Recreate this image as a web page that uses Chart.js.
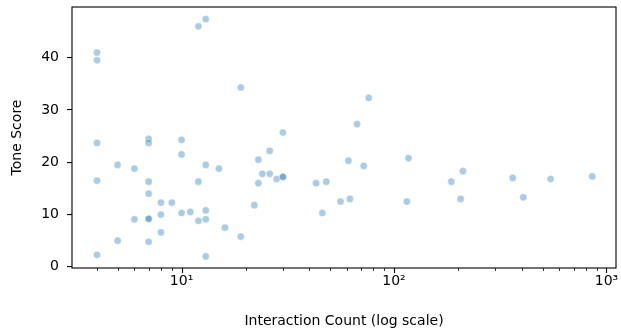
<!DOCTYPE html>
<html lang="en">
<head>
<meta charset="UTF-8">
<title>Tone Score vs Interaction Count</title>
<script src="https://cdn.jsdelivr.net/npm/chart.js"></script>
<style>
  html, body { margin: 0; padding: 0; background: #fff; }
  #wrap { width: 621px; height: 336px; }
</style>
</head>
<body>
<div id="wrap"><canvas id="myChart" width="621" height="336"></canvas></div>
<script>
// interaction counts (x, log scale) and tone scores (y)
const interactionCount = [
  4, 4, 4, 4, 4,
  5, 5,
  6, 6,
  7, 7, 7, 7, 7, 7, 7,
  8, 8, 8,
  9,
  10, 10, 10,
  11,
  12, 12, 12,
  13, 13, 13, 13, 13,
  15, 16, 19, 19, 22, 23, 23, 24, 26, 26, 28, 30, 30, 30,
  43, 46, 48, 56, 61, 62, 67, 72, 76,
  115, 117, 186, 206, 211, 362, 406, 546, 857
];
const toneScore = [
  41.0, 39.5, 23.7, 16.5, 2.3,
  19.5, 5.0,
  18.8, 9.1,
  24.5, 23.7, 16.3, 14.0, 9.2, 9.2, 4.8,
  12.3, 10.0, 6.6,
  12.3,
  24.3, 21.5, 10.3,
  10.5,
  46.0, 16.3, 8.8,
  47.4, 19.5, 10.8, 9.1, 2.0,
  18.8, 7.5, 34.3, 5.8, 11.8, 20.5, 16.0, 17.8, 17.8, 22.2, 16.8, 25.7, 17.2, 17.2,
  16.0, 10.3, 16.3, 12.5, 20.3, 13.0, 27.3, 19.3, 32.3,
  12.5, 20.8, 16.3, 13.0, 18.3, 17.0, 13.3, 16.8, 17.3
];
const yTicks = [0, 10, 20, 30, 40];
const xMajorLabels = { 10: '10\u00b9', 100: '10\u00b2', 1000: '10\u00b3' };

const points = interactionCount.map((x, i) => ({ x: x, y: toneScore[i] }));

// frame on all four sides + x tick marks (major long, minor short)
const framePlugin = {
  id: 'frame',
  afterDraw(chart) {
    const { ctx, chartArea: a } = chart;
    const xs = chart.scales.x;
    ctx.save();
    ctx.strokeStyle = '#000';
    ctx.lineWidth = 1.1;
    ctx.strokeRect(a.left, a.top, a.right - a.left, a.bottom - a.top);
    xs.ticks.forEach(t => {
      const px = Math.round(xs.getPixelForValue(t.value)) + 0.5;
      const len = xMajorLabels[t.value] ? 5 : 3;
      ctx.lineWidth = xMajorLabels[t.value] ? 1.1 : 0.8;
      ctx.beginPath();
      ctx.moveTo(px, a.bottom);
      ctx.lineTo(px, a.bottom + len);
      ctx.stroke();
    });
    ctx.restore();
  }
};

const font = { family: 'DejaVu Sans', size: 14 };

new Chart(document.getElementById('myChart'), {
  type: 'scatter',
  data: {
    datasets: [{
      data: points,
      backgroundColor: 'rgba(31,119,180,0.38)',
      borderColor: 'rgba(255,255,255,0.5)',
      borderWidth: 0.8,
      pointRadius: 3.6,
      pointHoverRadius: 3.6
    }]
  },
  options: {
    responsive: false,
    animation: false,
    events: [],
    layout: { padding: { top: 7, right: 5, left: 0, bottom: 0 } },
    plugins: { legend: { display: false }, tooltip: { enabled: false } },
    scales: {
      x: {
        type: 'logarithmic',
        min: 3.05,
        max: 1109,
        afterBuildTicks(scale) {
          const t = [];
          for (let d = 1; d <= 1000; d *= 10) {
            for (let m = 1; m <= 9; m++) {
              const v = m * d;
              if (v >= scale.min && v <= scale.max) t.push({ value: v });
            }
          }
          scale.ticks = t;
        },
        afterFit(scale) {
          scale.height = 68;
          scale.paddingLeft = 0;
          scale.paddingRight = 0;
        },
        grid: { display: false, drawTicks: false },
        border: { display: false },
        ticks: {
          autoSkip: false,
          maxRotation: 0,
          padding: 5,
          color: '#000',
          font: font,
          callback: v => xMajorLabels[v] || ''
        },
        title: {
          display: true,
          text: 'Interaction Count (log scale)',
          color: '#000',
          font: font,
          padding: { top: 0, bottom: 6 }
        }
      },
      y: {
        min: -0.22,
        max: 49.7,
        afterBuildTicks(scale) {
          scale.ticks = yTicks.map(v => ({ value: v }));
        },
        afterFit(scale) {
          scale.width = 72;
          scale.paddingTop = 0;
          scale.paddingBottom = 0;
        },
        grid: { drawOnChartArea: false, tickLength: 5, color: '#000', lineWidth: 1.1 },
        border: { display: false },
        ticks: {
          includeBounds: false,
          padding: 8,
          color: '#000',
          font: font
        },
        title: {
          display: true,
          text: 'Tone Score',
          color: '#000',
          font: font,
          padding: { top: 9, bottom: 0 }
        }
      }
    }
  },
  plugins: [framePlugin]
});
</script>
</body>
</html>
